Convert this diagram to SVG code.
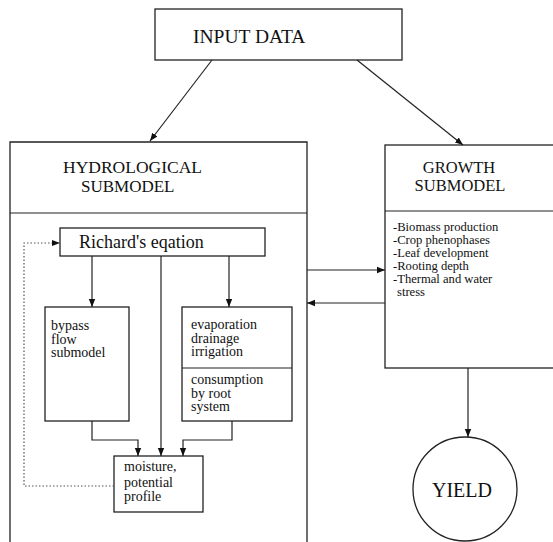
<svg xmlns="http://www.w3.org/2000/svg" width="553" height="542" viewBox="0 0 553 542" font-family="'Liberation Serif', 'DejaVu Serif', serif">
<defs>
<style>
.box{fill:#fff;stroke:#222;stroke-width:1.3}
.ln{fill:none;stroke:#222;stroke-width:1.2}
.dot{fill:none;stroke:#555;stroke-width:1.2;stroke-dasharray:1.5 2}
text{font-family:'Liberation Serif','DejaVu Serif',serif;fill:#111}
.big{font-size:19.5px}
.hd{font-size:17px}
.md{font-size:14px}
.sm{font-size:12.6px}
</style>
<marker id="ah" viewBox="0 0 10 10" refX="10" refY="5" markerWidth="8" markerHeight="8" markerUnits="userSpaceOnUse" orient="auto"><path d="M0,1 L10,5 L0,9 Z" fill="#111"/></marker>
</defs>
<rect width="553" height="542" fill="#fff"/>
<g id="input">
<rect class="box" x="155" y="9" width="247" height="51"/>
<text class="big" x="193" y="43">INPUT DATA</text>
</g>
<g id="hydro">
<path class="box" d="M10,543 L10,142 L307,142 L307,543"/>
<line class="ln" x1="10" y1="213" x2="307" y2="213"/>
<text class="hd" x="63" y="173" style="font-size:17.5px">HYDROLOGICAL</text>
<text class="hd" x="81" y="192">SUBMODEL</text>
</g>
<g id="growth">
<rect class="box" x="385" y="145" width="175" height="223"/>
<line class="ln" x1="385" y1="211" x2="560" y2="211"/>
<text class="hd" x="459" y="172.5" text-anchor="middle" style="font-size:16.5px">GROWTH</text>
<text class="hd" x="460" y="191" text-anchor="middle" style="font-size:16.5px">SUBMODEL</text>
<text class="sm" x="393" y="231">-Biomass production</text>
<text class="sm" x="393" y="244">-Crop phenophases</text>
<text class="sm" x="393" y="257">-Leaf development</text>
<text class="sm" x="393" y="270">-Rooting depth</text>
<text class="sm" x="393" y="283">-Thermal and water</text>
<text class="sm" x="397" y="296">stress</text>
</g>
<g id="richards">
<rect class="box" x="60" y="228" width="205" height="28"/>
<text x="79" y="248" style="font-size:18px">Richard's eqation</text>
</g>
<g id="bypass">
<rect class="box" x="45" y="307" width="84" height="114"/>
<text class="md" x="51" y="330">bypass</text>
<text class="md" x="51" y="343.5">flow</text>
<text class="md" x="51" y="357">submodel</text>
</g>
<g id="evap">
<rect class="box" x="182" y="307" width="110" height="114"/>
<line class="ln" x1="182" y1="368" x2="292" y2="368"/>
<text class="md" x="191" y="329">evaporation</text>
<text class="md" x="191" y="342.5">drainage</text>
<text class="md" x="191" y="356">irrigation</text>
<text class="md" x="191" y="384">consumption</text>
<text class="md" x="191" y="397.5">by root</text>
<text class="md" x="191" y="411">system</text>
</g>
<g id="moisture">
<rect class="box" x="114" y="456" width="89" height="56"/>
<text class="md" x="124" y="471">moisture,</text>
<text class="md" x="124" y="486.5">potential</text>
<text class="md" x="124" y="501">profile</text>
</g>
<g id="yield">
<circle class="box" cx="465" cy="489" r="52"/>
<text class="big" x="462" y="497" text-anchor="middle" style="font-size:20px">YIELD</text>
</g>
<g id="connectors">
<line class="ln" x1="212" y1="60" x2="150" y2="141" marker-end="url(#ah)"/>
<line class="ln" x1="357" y1="60" x2="463" y2="145" marker-end="url(#ah)"/>
<line class="ln" x1="307" y1="270" x2="385" y2="270" marker-end="url(#ah)"/>
<line class="ln" x1="385" y1="303" x2="307" y2="303" marker-end="url(#ah)"/>
<line class="ln" x1="92" y1="256" x2="92" y2="307" marker-end="url(#ah)"/>
<line class="ln" x1="229" y1="256" x2="229" y2="307" marker-end="url(#ah)"/>
<line class="ln" x1="161" y1="256" x2="161" y2="456" marker-end="url(#ah)"/>
<polyline class="ln" points="92,421 92,440 138,440 138,456" marker-end="url(#ah)"/>
<polyline class="ln" points="232,421 232,440 183,440 183,456" marker-end="url(#ah)"/>
<polyline class="dot" points="114,486 24,486 24,243 59,243"/>
<path d="M52,240 L60,243 L52,246 Z" fill="#111"/>
<line class="ln" x1="468" y1="368" x2="468" y2="437" marker-end="url(#ah)"/>
</g>
</svg>
